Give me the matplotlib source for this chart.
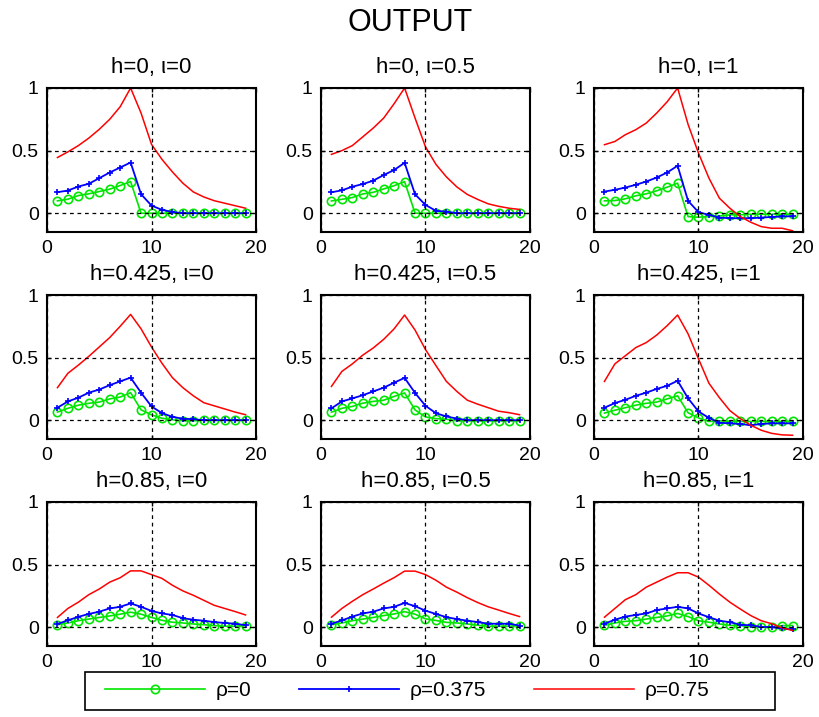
import matplotlib
matplotlib.use("Agg")
import matplotlib.pyplot as plt
from matplotlib.patches import Rectangle

plt.rcParams['font.family'] = ['Liberation Sans', 'DejaVu Sans']

x = list(range(1, 20))

h_values = ["0", "0.425", "0.85"]
iota_values = ["0", "0.5", "1"]
legend_labels = ["ρ=0", "ρ=0.375", "ρ=0.75"]

# ---- h = 0 ----
green_h0_i0 = [0.099, 0.112, 0.141, 0.155, 0.173, 0.192, 0.221, 0.253, 0, 0, 0, 0, 0, 0, 0, 0, 0, 0, 0]
blue_h0_i0 = [0.168, 0.181, 0.213, 0.235, 0.28, 0.325, 0.365, 0.405, 0.152, 0.061, 0.027, 0.01, 0, 0, 0, 0, 0, 0, 0]
red_h0_i0 = [0.445, 0.49, 0.54, 0.60, 0.67, 0.75, 0.85, 1.0, 0.80, 0.55, 0.43, 0.33, 0.24, 0.17, 0.13, 0.10, 0.08, 0.06, 0.04]

green_h0_i05 = [0.098, 0.111, 0.125, 0.154, 0.167, 0.194, 0.22, 0.252, 0, 0, 0, 0, 0, 0, 0, 0, 0, 0, 0]
blue_h0_i05 = [0.167, 0.183, 0.212, 0.233, 0.26, 0.305, 0.345, 0.403, 0.151, 0.066, 0.019, 0.013, 0, 0, 0, 0, 0, 0, 0]
red_h0_i05 = [0.47, 0.50, 0.54, 0.61, 0.68, 0.76, 0.875, 1.0, 0.76, 0.53, 0.39, 0.29, 0.21, 0.15, 0.11, 0.075, 0.055, 0.04, 0.03]

green_h0_i1 = [0.099, 0.101, 0.115, 0.139, 0.155, 0.179, 0.208, 0.24, -0.027, -0.032, -0.027, -0.022, -0.013, -0.013, -0.008, -0.008, -0.008, -0.008, -0.008]
blue_h0_i1 = [0.173, 0.187, 0.205, 0.227, 0.253, 0.285, 0.325, 0.379, 0.099, 0.008, -0.013, -0.035, -0.04, -0.04, -0.04, -0.035, -0.03, -0.026, -0.024]
red_h0_i1 = [0.547, 0.573, 0.627, 0.667, 0.72, 0.80, 0.89, 1.0, 0.71, 0.48, 0.28, 0.12, 0.04, -0.027, -0.072, -0.107, -0.12, -0.12, -0.14]

# ---- h = 0.425 ----
green_h0425_i0 = [0.065, 0.095, 0.12, 0.135, 0.145, 0.17, 0.185, 0.22, 0.083, 0.043, 0.016, 0.004, -0.005, -0.005, 0, 0, 0, 0, 0]
blue_h0425_i0 = [0.10, 0.15, 0.18, 0.22, 0.245, 0.28, 0.31, 0.34, 0.22, 0.11, 0.057, 0.027, 0.012, 0.008, 0, 0, 0, 0, 0]
red_h0425_i0 = [0.26, 0.375, 0.44, 0.51, 0.585, 0.66, 0.75, 0.845, 0.73, 0.585, 0.455, 0.34, 0.26, 0.195, 0.14, 0.115, 0.09, 0.065, 0.044]

green_h0425_i05 = [0.064, 0.095, 0.11, 0.136, 0.15, 0.16, 0.19, 0.218, 0.082, 0.026, 0.013, 0.008, -0.005, -0.005, -0.005, -0.005, -0.005, -0.005, -0.005]
blue_h0425_i05 = [0.095, 0.15, 0.174, 0.2, 0.23, 0.26, 0.30, 0.338, 0.218, 0.115, 0.056, 0.03, 0.013, 0, 0, 0, 0, 0, 0]
red_h0425_i05 = [0.27, 0.39, 0.45, 0.52, 0.577, 0.646, 0.73, 0.84, 0.72, 0.564, 0.436, 0.31, 0.23, 0.16, 0.128, 0.10, 0.072, 0.06, 0.044]

green_h0425_i1 = [0.057, 0.08, 0.10, 0.12, 0.135, 0.145, 0.17, 0.195, 0.06, 0.018, -0.01, -0.005, -0.008, -0.01, -0.01, -0.01, -0.01, -0.01, -0.01]
blue_h0425_i1 = [0.10, 0.137, 0.163, 0.195, 0.22, 0.25, 0.275, 0.315, 0.175, 0.07, 0.018, -0.02, -0.025, -0.03, -0.04, -0.03, -0.025, -0.025, -0.025]
red_h0425_i1 = [0.31, 0.45, 0.515, 0.58, 0.62, 0.68, 0.755, 0.84, 0.69, 0.49, 0.295, 0.18, 0.077, 0.013, -0.04, -0.08, -0.105, -0.117, -0.12]

# ---- h = 0.85 ----
green_h085_i0 = [0.02, 0.034, 0.052, 0.065, 0.078, 0.09, 0.104, 0.12, 0.104, 0.078, 0.055, 0.04, 0.034, 0.026, 0.02, 0.013, 0.008, 0.008, 0.013]
blue_h085_i0 = [0.026, 0.055, 0.083, 0.106, 0.124, 0.15, 0.163, 0.19, 0.163, 0.13, 0.11, 0.098, 0.072, 0.06, 0.052, 0.041, 0.034, 0.028, 0.016]
red_h085_i0 = [0.078, 0.15, 0.20, 0.26, 0.305, 0.36, 0.395, 0.45, 0.45, 0.42, 0.39, 0.335, 0.29, 0.255, 0.215, 0.175, 0.15, 0.125, 0.098]

green_h085_i05 = [0.02, 0.034, 0.052, 0.065, 0.078, 0.093, 0.106, 0.124, 0.104, 0.067, 0.054, 0.039, 0.034, 0.026, 0.016, 0.008, 0.008, 0.008, 0.013]
blue_h085_i05 = [0.028, 0.054, 0.085, 0.11, 0.124, 0.15, 0.163, 0.194, 0.168, 0.132, 0.106, 0.08, 0.065, 0.052, 0.041, 0.028, 0.028, 0.028, 0.013]
red_h085_i05 = [0.08, 0.15, 0.207, 0.26, 0.305, 0.352, 0.396, 0.448, 0.448, 0.42, 0.375, 0.32, 0.28, 0.236, 0.197, 0.163, 0.137, 0.11, 0.085]

green_h085_i1 = [0.015, 0.034, 0.047, 0.052, 0.065, 0.078, 0.09, 0.11, 0.085, 0.052, 0.04, 0.026, 0.015, 0.013, 0.003, 0.0, 0.0, 0.013, 0.013]
blue_h085_i1 = [0.028, 0.06, 0.085, 0.098, 0.11, 0.137, 0.15, 0.163, 0.15, 0.11, 0.08, 0.052, 0.04, 0.02, 0.015, 0.003, 0.0, -0.01, -0.018]
red_h085_i1 = [0.08, 0.15, 0.22, 0.26, 0.32, 0.36, 0.40, 0.435, 0.435, 0.40, 0.335, 0.265, 0.20, 0.145, 0.093, 0.052, 0.028, -0.005, -0.026]

panels = [
    [(green_h0_i0, blue_h0_i0, red_h0_i0), (green_h0_i05, blue_h0_i05, red_h0_i05), (green_h0_i1, blue_h0_i1, red_h0_i1)],
    [(green_h0425_i0, blue_h0425_i0, red_h0425_i0), (green_h0425_i05, blue_h0425_i05, red_h0425_i05), (green_h0425_i1, blue_h0425_i1, red_h0425_i1)],
    [(green_h085_i0, blue_h085_i0, red_h085_i0), (green_h085_i05, blue_h085_i05, red_h085_i05), (green_h085_i1, blue_h085_i1, red_h085_i1)],
]

W, H = 820, 717
fig = plt.figure(figsize=(W / 100, H / 100), dpi=100)
fig.patch.set_facecolor('white')

col_left = [47, 321, 594]
row_top = [88, 295, 502]
ax_w, ax_h = 209, 144

GREEN = '#00e600'
BLUE = '#0000ff'
RED = '#ff0000'

handles = None
for r in range(3):
    for c in range(3):
        left = col_left[c] / W
        bottom = 1 - (row_top[r] + ax_h) / H
        ax = fig.add_axes([left, bottom, ax_w / W, ax_h / H])
        g, b, rd = panels[r][c]
        lg, = ax.plot(x, g, color=GREEN, lw=1.2, marker='o', ms=6, mfc='none', mec=GREEN, mew=1.2)
        lb, = ax.plot(x, b, color=BLUE, lw=1.3, marker='+', ms=5, mew=1.2)
        lr, = ax.plot(x, rd, color=RED, lw=1.1)
        handles = [lg, lb, lr]
        ax.set_xlim(0, 20)
        ax.set_ylim(-0.15, 1.0)
        ax.set_xticks([0, 10, 20])
        ax.set_yticks([0, 0.5, 1])
        ax.set_yticklabels(['0', '0.5', '1'])
        ax.grid(True, color='black', linestyle=(0, (3, 3)), linewidth=0.9)
        ax.set_axisbelow(False)
        ax.tick_params(direction='in', length=3, width=1, labelsize=14, pad=6,
                       top=True, right=True)
        for s in ax.spines.values():
            s.set_linewidth(1.5)
        ax.set_title(f"h={h_values[r]}, ι={iota_values[c]}", fontsize=16, pad=11)

fig.text(0.5, 1 - 31 / H, "OUTPUT", ha='center', va='baseline', fontsize=22)

# legend frame
fig.patches.append(Rectangle((85 / W, 1 - 710 / H), 690 / W, 38 / H,
                             transform=fig.transFigure, fill=True, facecolor='white',
                             edgecolor='black', linewidth=1.2, zorder=1))

leg = fig.legend(handles, legend_labels, loc='center left', ncol=3,
                 bbox_to_anchor=(105 / W, 1 - 691 / H),
                 fontsize=15, handlelength=4.8, numpoints=1, frameon=False,
                 borderpad=0, borderaxespad=0, handletextpad=0.5, columnspacing=2.3)
leg.set_zorder(5)

fig.savefig("out.png", dpi=100)
